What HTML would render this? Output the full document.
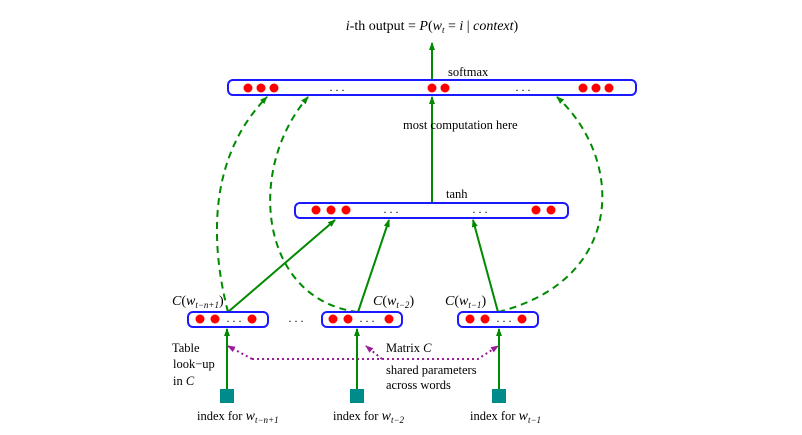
<!DOCTYPE html>
<html><head><style>
html,body{margin:0;padding:0;background:#fff;}
svg{display:block;}
text{font-family:"Liberation Serif",serif;fill:#000;}
</style></head><body>
<svg width="802" height="435" viewBox="0 0 802 435" xmlns="http://www.w3.org/2000/svg">
<defs>
<marker id="ag" markerWidth="8" markerHeight="8" refX="7" refY="4" orient="auto" markerUnits="userSpaceOnUse">
<path d="M0,1 L8,4 L0,7 z" fill="#008a00"/></marker>
<marker id="ap" markerWidth="8" markerHeight="8" refX="7" refY="4" orient="auto" markerUnits="userSpaceOnUse">
<path d="M0,1 L8,4 L0,7 z" fill="#9a1a9a"/></marker>
</defs>
<!-- title -->
<text x="432" y="30" font-size="14" text-anchor="middle"><tspan font-style="italic">i</tspan>-th output = <tspan font-style="italic">P</tspan>(<tspan font-style="italic">w</tspan><tspan font-size="9" font-style="italic" dy="3">t</tspan><tspan dy="-3"> = </tspan><tspan font-style="italic">i</tspan> | <tspan font-style="italic">context</tspan>)</text>
<!-- green solid arrows -->
<g stroke="#008a00" stroke-width="2" fill="none">
<line x1="432" y1="80" x2="432" y2="43" marker-end="url(#ag)"/>
<line x1="432" y1="203" x2="432" y2="97" marker-end="url(#ag)"/>
<line x1="228" y1="312" x2="335" y2="220" marker-end="url(#ag)"/>
<line x1="358" y1="312" x2="389" y2="220" marker-end="url(#ag)"/>
<line x1="498" y1="312" x2="473" y2="220" marker-end="url(#ag)"/>
<line x1="227" y1="389" x2="227" y2="329" marker-end="url(#ag)"/>
<line x1="357" y1="389" x2="357" y2="329" marker-end="url(#ag)"/>
<line x1="499" y1="389" x2="499" y2="329" marker-end="url(#ag)"/>
</g>
<!-- dashed curves -->
<g stroke="#008a00" stroke-width="2" fill="none" stroke-dasharray="7,5">
<path d="M228,312 C212,250 205,160 267,97" marker-end="url(#ag)"/>
<path d="M358,312 C260,300 245,170 308,97" marker-end="url(#ag)"/>
<path d="M498,312 C625,280 625,160 557,97" marker-end="url(#ag)"/>
</g>
<!-- purple dotted -->
<g stroke="#9a1a9a" stroke-width="2" fill="none" stroke-dasharray="2,3">
<path d="M252,359 L228,346" marker-end="url(#ap)"/>
<path d="M252,359 L478,359 L498,346" marker-end="url(#ap)"/>
<path d="M382,359 L366,346" marker-end="url(#ap)"/>
</g>
<!-- boxes -->
<g stroke="#1a1aff" stroke-width="2" fill="#fff">
<rect x="228" y="80" width="408" height="15" rx="5"/>
<rect x="295" y="203" width="273" height="15" rx="5"/>
<rect x="188" y="312" width="80" height="15" rx="5"/>
<rect x="322" y="312" width="80" height="15" rx="5"/>
<rect x="458" y="312" width="80" height="15" rx="5"/>
</g>
<!-- dots -->
<g fill="#ff0000">
<circle cx="248" cy="88" r="4.5"/><circle cx="261" cy="88" r="4.5"/><circle cx="274" cy="88" r="4.5"/>
<circle cx="432" cy="88" r="4.5"/><circle cx="445" cy="88" r="4.5"/>
<circle cx="583" cy="88" r="4.5"/><circle cx="596" cy="88" r="4.5"/><circle cx="609" cy="88" r="4.5"/>
<circle cx="316" cy="210" r="4.5"/><circle cx="331" cy="210" r="4.5"/><circle cx="346" cy="210" r="4.5"/>
<circle cx="536" cy="210" r="4.5"/><circle cx="551" cy="210" r="4.5"/>
<circle cx="200" cy="319" r="4.5"/><circle cx="215" cy="319" r="4.5"/><circle cx="252" cy="319" r="4.5"/>
<circle cx="333" cy="319" r="4.5"/><circle cx="348" cy="319" r="4.5"/><circle cx="389" cy="319" r="4.5"/>
<circle cx="470" cy="319" r="4.5"/><circle cx="485" cy="319" r="4.5"/><circle cx="522" cy="319" r="4.5"/>
</g>
<g font-size="12" text-anchor="middle">
<text x="337" y="91">. . .</text><text x="523" y="91">. . .</text>
<text x="391" y="213">. . .</text><text x="480" y="213">. . .</text>
<text x="234" y="322">. . .</text><text x="367" y="322">. . .</text><text x="504" y="322">. . .</text>
<text x="296" y="322">. . .</text>
</g>
<!-- squares -->
<g fill="#008b8b">
<rect x="220" y="389" width="14" height="14"/>
<rect x="350" y="389" width="14" height="14"/>
<rect x="492" y="389" width="14" height="14"/>
</g>
<!-- labels -->
<g font-size="12.5">
<text x="448" y="76">softmax</text>
<text x="403" y="129">most  computation here</text>
<text x="446" y="198">tanh</text>
<text x="172" y="305" font-size="14"><tspan font-style="italic">C</tspan>(<tspan font-style="italic">w</tspan><tspan font-size="9" font-style="italic" dy="3">t−n+1</tspan><tspan dy="-3">)</tspan></text>
<text x="373" y="305" font-size="14"><tspan font-style="italic">C</tspan>(<tspan font-style="italic">w</tspan><tspan font-size="9" font-style="italic" dy="3">t−2</tspan><tspan dy="-3">)</tspan></text>
<text x="445" y="305" font-size="14"><tspan font-style="italic">C</tspan>(<tspan font-style="italic">w</tspan><tspan font-size="9" font-style="italic" dy="3">t−1</tspan><tspan dy="-3">)</tspan></text>
<text x="172" y="352">Table</text>
<text x="173" y="368">look−up</text>
<text x="173" y="385">in <tspan font-style="italic">C</tspan></text>
<text x="386" y="352">Matrix <tspan font-style="italic">C</tspan></text>
<text x="386" y="374">shared parameters</text>
<text x="386" y="389">across words</text>
<text x="197" y="420">index for <tspan font-style="italic" font-size="14">w</tspan><tspan font-size="9" font-style="italic" dy="3">t−n+1</tspan></text>
<text x="333" y="420">index for <tspan font-style="italic" font-size="14">w</tspan><tspan font-size="9" font-style="italic" dy="3">t−2</tspan></text>
<text x="470" y="420">index for <tspan font-style="italic" font-size="14">w</tspan><tspan font-size="9" font-style="italic" dy="3">t−1</tspan></text>
</g>
</svg>
</body></html>
